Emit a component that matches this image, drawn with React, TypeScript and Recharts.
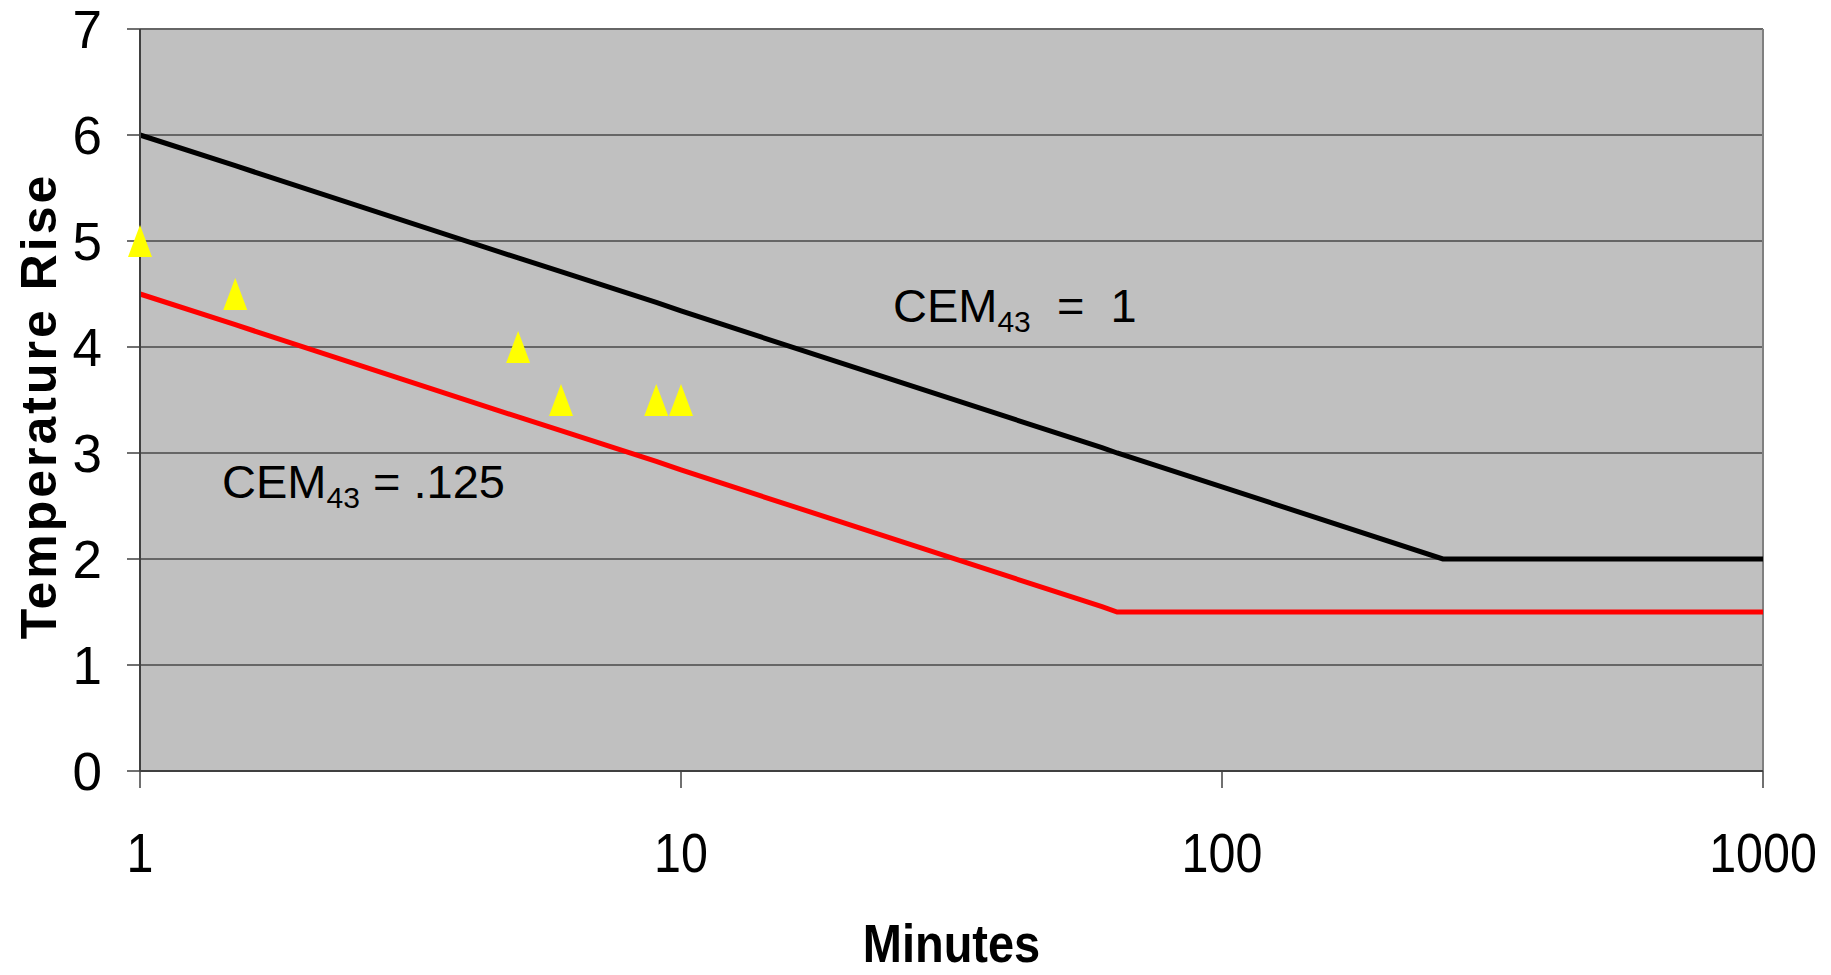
import React from 'react';
import {
  ComposedChart,
  Line,
  Scatter,
  XAxis,
  YAxis,
  CartesianGrid,
  ReferenceLine,
  ReferenceDot,
} from 'recharts';

// Time (minutes) sample points of the two iso-dose curves
const minutes = [1, 1.5, 5, 6, 9, 10, 60, 64, 100, 256, 1000];
// Temperature rise for CEM43 = 1
const cem1Rise = [6.0, 5.71, 4.84, 4.71, 4.42, 4.34, 3.05, 3.0, 2.68, 2.0, 2.0];
// Temperature rise for CEM43 = .125
const cem0125Rise = [4.5, 4.21, 3.34, 3.21, 2.92, 2.84, 1.55, 1.5, 1.5, 1.5, 1.5];
// Observed points (yellow triangles)
const obsMinutes = [1, 1.5, 5, 6, 9, 10];
const obsRise = [5, 4.5, 4, 3.5, 3.5, 3.5];

const xTicks = [1, 10, 100, 1000];
const yTicks = [0, 1, 2, 3, 4, 5, 6, 7];

const cem1Data = minutes.map((x, i) => ({ x, y: cem1Rise[i] }));
const cem0125Data = minutes.map((x, i) => ({ x, y: cem0125Rise[i] }));
const obsData = obsMinutes.map((x, i) => ({ x, y: obsRise[i] }));

const FONT = '"Liberation Sans", Arial, Helvetica, sans-serif';

const XTick = (props: any) => {
  const { x, y, payload } = props;
  const by = y + 84;
  return (
    <text
      x={x}
      y={by}
      textAnchor="middle"
      fontSize={55}
      fontFamily={FONT}
      fill="#000"
      transform={`translate(${x},0) scale(0.88,1) translate(${-x},0)`}
    >
      {payload.value}
    </text>
  );
};

const Triangle = (props: any) => {
  const { cx, cy } = props;
  if (cx == null || cy == null) return null;
  const w = 24;
  const h = 32;
  return (
    <path
      d={`M${cx},${cy - h / 2} L${cx + w / 2},${cy + h / 2} L${cx - w / 2},${cy + h / 2} Z`}
      fill="#FFFF00"
      stroke="none"
    />
  );
};

const CemLabel = ({ viewBox, rest }: any) => {
  if (!viewBox) return null;
  const x = viewBox.x + (viewBox.width || 0) / 2;
  const y = viewBox.y + (viewBox.height || 0) / 2;
  return (
    <text x={x} y={y} fontSize={47} fontFamily={FONT} fill="#000" style={{ whiteSpace: 'pre' }}>
      CEM
      <tspan fontSize={30} dy={10}>43</tspan>
      <tspan dy={-10}>{rest}</tspan>
    </text>
  );
};

export default function App() {
  return (
    <div>
      <style>{'html,body{margin:0;padding:0;overflow:hidden;background:#fff}'}</style>
      <ComposedChart
        width={1831}
        height={975}
        margin={{ top: 29, right: 68, left: 0, bottom: 0 }}
      >
        <CartesianGrid
          horizontal
          vertical={false}
          fill="#C0C0C0"
          fillOpacity={1}
          stroke="#666666"
          strokeWidth={2}
        />
        <XAxis
          dataKey="x"
          type="number"
          scale="log"
          domain={[1, 1000]}
          ticks={xTicks}
          height={204}
          tickSize={17}
          tickMargin={0}
          axisLine={{ stroke: '#404040', strokeWidth: 2 }}
          tickLine={{ stroke: '#404040', strokeWidth: 1.5 }}
          tick={<XTick />}
          interval={0}
          label={{
            content: (p: any) => {
              const vb = p.viewBox || {};
              const cx = (vb.x ?? 140) + (vb.width ?? 1623) / 2;
              return (
                <text
                  x={cx}
                  y={962}
                  textAnchor="middle"
                  fontSize={54}
                  fontWeight="bold"
                  fontFamily={FONT}
                  fill="#000"
                  transform={`translate(${cx},0) scale(0.87,1) translate(${-cx},0)`}
                >
                  Minutes
                </text>
              );
            },
          }}
        />
        <YAxis
          type="number"
          domain={[0, 7]}
          ticks={yTicks}
          interval={0}
          width={140}
          tickSize={13}
          tickMargin={25}
          axisLine={{ stroke: '#404040', strokeWidth: 2 }}
          tickLine={{ stroke: '#404040', strokeWidth: 1.5 }}
          tick={{ fontSize: 53, fill: '#000', fontFamily: FONT }}
          label={{
            content: () => (
              <text
                x={56}
                y={406}
                textAnchor="middle"
                fontSize={50}
                fontWeight="bold"
                fontFamily={FONT}
                fill="#000"
                letterSpacing={3}
                transform="rotate(-90, 56, 406)"
              >
                Temperature Rise
              </text>
            ),
          }}
        />
        <ReferenceLine x={1000} stroke="#808080" strokeWidth={2} />
        <Line
          data={cem1Data}
          dataKey="y"
          type="linear"
          stroke="#000000"
          strokeWidth={5}
          dot={false}
          activeDot={false}
          isAnimationActive={false}
        />
        <Line
          data={cem0125Data}
          dataKey="y"
          type="linear"
          stroke="#FF0000"
          strokeWidth={5}
          dot={false}
          activeDot={false}
          isAnimationActive={false}
        />
        <Scatter
          data={obsData}
          dataKey="y"
          fill="#FFFF00"
          shape={<Triangle />}
          isAnimationActive={false}
        />
        <ReferenceDot
          x={24.65}
          y={4.237}
          r={1}
          fill="none"
          stroke="none"
          label={{ content: (p: any) => <CemLabel viewBox={p.viewBox} rest={'  =  1'} /> }}
        />
        <ReferenceDot
          x={1.418}
          y={2.576}
          r={1}
          fill="none"
          stroke="none"
          label={{ content: (p: any) => <CemLabel viewBox={p.viewBox} rest={' = .125'} /> }}
        />
      </ComposedChart>
    </div>
  );
}
